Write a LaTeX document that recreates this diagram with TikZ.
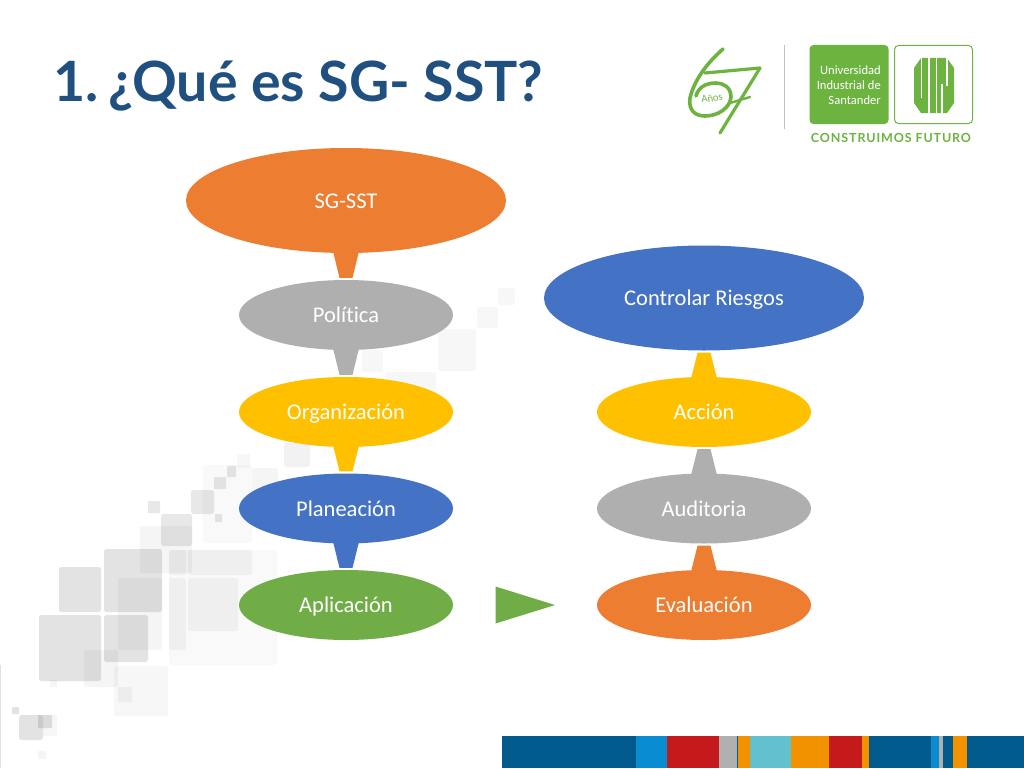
\documentclass[tikz,border=0pt]{standalone}
\usepackage{fontspec}
\setmainfont[Ligatures=NoCommon]{Carlito}
\newfontfamily\titlefont{Lato}
\newfontfamily\lemafont[LetterSpace=7]{Lato}
\usetikzlibrary{calc,shapes.geometric}
\definecolor{cOrange}{HTML}{ED7D31}
\definecolor{cGray}{HTML}{AFAFAF}
\definecolor{cGold}{HTML}{FFC000}
\definecolor{cBlue}{HTML}{4472C4}
\definecolor{cGreen}{HTML}{70AD47}
\definecolor{cTitle}{HTML}{1F5080}
\definecolor{cUIS}{HTML}{6DB33F}
\definecolor{cBarBlue}{HTML}{005A8B}
\definecolor{cBarSky}{HTML}{0A8CD2}
\definecolor{cBarRed}{HTML}{C41A1C}
\definecolor{cBarGray}{HTML}{B0B0B0}
\definecolor{cBarAmber}{HTML}{F39200}
\definecolor{cBarTeal}{HTML}{62C0CF}
\tikzset{
  ovaltext/.style={text=white,font=\fontsize{22.5}{26}\selectfont,text height=17pt,text depth=2pt},
  bigoval/.style={ellipse,minimum width=320pt,minimum height=105pt,inner sep=0pt,ovaltext},
  oval/.style={ellipse,minimum width=214pt,minimum height=70pt,inner sep=0pt,ovaltext},
  logotxt/.style={text=white,font=\fontsize{12.6}{14.8}\selectfont,align=right,inner sep=0pt},
}
\newcommand{\wedgedown}[3]{\fill[#1] ([xshift=-14pt,yshift=6pt]#2.south) -- ([xshift=14pt,yshift=6pt]#2.south) -- ([xshift=6.5pt,yshift=2pt]#3.north) -- ([xshift=-6.5pt,yshift=2pt]#3.north) -- cycle;}
\newcommand{\wedgeup}[3]{\fill[#1] ([xshift=-14pt,yshift=-6pt]#2.north) -- ([xshift=14pt,yshift=-6pt]#2.north) -- ([xshift=6.5pt,yshift=-2pt]#3.south) -- ([xshift=-6.5pt,yshift=-2pt]#3.south) -- cycle;}
\newcommand{\sqr}[5]{\fill[black,opacity=#5,rounded corners=2.5pt] (#1,#2) rectangle (#3,#4);}
\newcommand{\sqs}[5]{\fill[black,opacity=#5,rounded corners=.6pt] (#1,#2) rectangle (#3,#4);}
\begin{document}
\begin{tikzpicture}[x=1pt,y=-1pt]
\useasboundingbox (0,0) rectangle (1024,768);
\fill[white] (0,0) rectangle (1024,768);
% background squares, lower left
\sqr{39}{615}{101}{681}{.11}
\sqr{59}{567}{101}{612}{.11}
\sqr{104}{549}{162}{612}{.11}
\sqr{104}{615}{148}{662}{.11}
\sqr{118}{578}{162}{650}{.04}
\sqr{84}{650}{118}{687}{.04}
\sqr{114}{666}{168}{716}{.03}
\sqs{118}{687}{132}{702}{.04}
\sqr{140}{526}{192}{573}{.04}
\sqr{161}{514}{192}{546}{.09}
\sqs{148}{501}{160}{513}{.09}
\sqr{169}{550}{277}{665}{.025}
\sqr{169}{550}{186}{575}{.04}
\sqr{169}{578}{186}{650}{.04}
\sqr{188}{550}{252}{575}{.04}
\sqr{188}{578}{238}{631}{.04}
\sqr{191}{490}{214}{514}{.09}
\sqr{203}{465}{252}{543}{.025}
\sqs{214}{477}{226}{489}{.09}
\sqs{227}{466}{236}{477}{.09}
\sqs{215}{514}{222}{522}{.09}
\sqs{237}{454}{250}{468}{.03}
\sqr{252}{468}{278}{500}{.04}
\sqr{284}{443}{310}{467}{.05}
\sqr{19}{715}{43}{740}{.11}
\sqs{38}{715}{52}{728}{.11}
\sqs{12}{707}{19}{714}{.11}
\sqs{43}{715}{57}{736}{.03}
\sqs{38}{751}{46}{759}{.04}
\sqs{50}{680}{57}{687}{.04}
% background squares, upper right
\sqr{498}{288}{515}{305}{.03}
\sqr{477}{307}{498}{328}{.03}
\sqr{438}{329}{476}{371}{.03}
\sqr{362}{350}{383}{372}{.03}
\sqr{385}{372}{436}{400}{.03}
% bottom strip
\fill[cBarBlue] (502,736) rectangle (1024,768);
\fill[cBarSky] (636,736) rectangle (667,768);
\fill[cBarRed] (667,736) rectangle (719,768);
\fill[cBarGray] (719,736) rectangle (737,768);
\fill[cBarAmber] (738,736) rectangle (750,768);
\fill[cBarTeal] (750,736) rectangle (791,768);
\fill[cBarAmber] (791,736) rectangle (829,768);
\fill[cBarRed] (829,736) rectangle (862,768);
\fill[cBarAmber] (862,736) rectangle (869,768);
\fill[cBarSky] (931,736) rectangle (939,768);
\fill[cBarGray] (939,736) rectangle (943,768);
\fill[cBarAmber] (953,736) rectangle (967,768);
\fill[black!12] (0,665) rectangle (1,768);
% title
\node[anchor=base west,inner sep=0pt,text=cTitle,font=\titlefont\bfseries\fontsize{55.5}{60}\selectfont] (title) at (53,101) {1.\hspace{-8pt} ¿Qué es SG- SST?};
% logo
\draw[cUIS,line width=3.6pt,line cap=round] (723,49) .. controls (708,62) and (694,80) .. (690,98) .. controls (688,112) and (697,116) .. (705,116) .. controls (718,116) and (730,108) .. (731,97) .. controls (731,87) and (723,83) .. (716,83) .. controls (705,83) and (698,88) .. (696,96);
\draw[cUIS,line width=3.2pt,line cap=round,line join=round] (705,73) -- (760,68) -- (720,133);
\draw[cUIS,line width=2.4pt,line cap=round] (730,103) -- (750,97);
\node[text=cUIS,font=\fontsize{10.5}{12}\selectfont,rotate=8,inner sep=0pt] (anos) at (712,98) {Años};
\draw[black!25,line width=.8pt] (784,45) -- (784,129);
\node[fill=cUIS,rounded corners=4pt,minimum width=79pt,minimum height=79pt,inner sep=0pt] (uisbox) at (849,84.500) {};
\node[logotxt,anchor=east] (uistxt) at (881,85) {Universidad\\Industrial de\\Santander};
\node[draw=cUIS,line width=1pt,rounded corners=4pt,minimum width=78pt,minimum height=78pt,inner sep=0pt] (vis) at (933.500,84.500) {};
\fill[cUIS] (921,58) -- (947,58) -- (954,68) -- (954,103) -- (947,113) -- (921,113) -- (914,103) -- (914,68) -- cycle;
\draw[white,line width=1.4pt] (921.700,57) -- (921.700,98) (929,57) -- (929,114) (936.700,57) -- (936.700,114) (947,57) -- (947,86) (942,84) -- (942,114);
\node[inner sep=0pt,text=cUIS,font=\lemafont\bfseries\fontsize{12.5}{15}\selectfont] (lema) at (891,138) {CONSTRUIMOS FUTURO};
% diagram
\node[bigoval,fill=cOrange] (sg) at (346,200.500) {SG-SST};
\node[oval,fill=cGray] (pol) at (346,315) {Política};
\node[oval,fill=cGold] (org) at (346,412) {Organización};
\node[oval,fill=cBlue] (pla) at (346,508.500) {Planeación};
\node[oval,fill=cGreen] (apl) at (346,605) {Aplicación};
\node[oval,fill=cOrange] (eva) at (704,605) {Evaluación};
\node[oval,fill=cGray] (aud) at (704,508.500) {Auditoria};
\node[oval,fill=cGold] (acc) at (704,412) {Acción};
\node[bigoval,fill=cBlue] (ctl) at (704,298) {Controlar Riesgos};
\wedgedown{cOrange}{sg}{pol}
\wedgedown{cGray}{pol}{org}
\wedgedown{cGold}{org}{pla}
\wedgedown{cBlue}{pla}{apl}
\wedgeup{cOrange}{eva}{aud}
\wedgeup{cGray}{aud}{acc}
\wedgeup{cGold}{acc}{ctl}
\fill[cGreen] ([xshift=-208.500pt,yshift=18.500pt]eva.center) -- ([xshift=-208.500pt,yshift=-18.500pt]eva.center) -- ([xshift=-149pt]eva.center) -- cycle;
\end{tikzpicture}
\end{document}
